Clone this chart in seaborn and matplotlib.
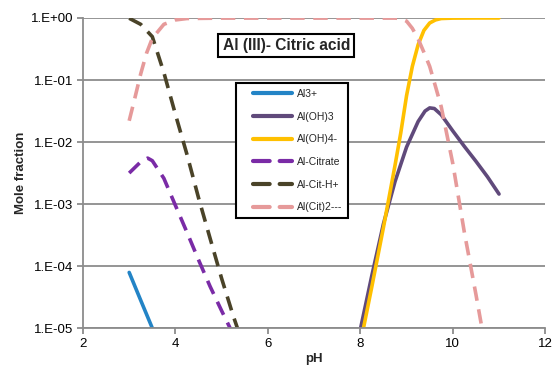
import numpy as np
import pandas as pd
import matplotlib
matplotlib.use("Agg")
import matplotlib.pyplot as plt
import seaborn as sns
from matplotlib.lines import Line2D
from matplotlib.legend_handler import HandlerLine2D
from matplotlib.ticker import FixedLocator, FixedFormatter, NullLocator

# Speciation of Al(III) in the presence of citric acid (mole fraction vs pH)
species = ["Al3+", "Al(OH)3", "Al(OH)4-", "Al-Citrate", "Al-Cit-H+", "Al(Cit)2---"]

ph_al3 = [3.0, 3.25, 3.5, 3.75]
frac_al3 = [7.9e-5, 2.8e-5, 1.0e-5, 3.2e-6]

ph_aloh3 = [8.0, 8.25, 8.5, 8.75, 9.0, 9.25, 9.4, 9.5, 9.6, 9.75, 10.0,
            10.25, 10.5, 10.75, 11.0]
frac_aloh3 = [9.5e-6, 7.1e-5, 4.8e-4, 2.3e-3, 8.3e-3, 2.14e-2, 3.16e-2,
              3.55e-2, 3.47e-2, 2.75e-2, 1.51e-2, 8.5e-3, 4.9e-3, 2.75e-3,
              1.45e-3]

ph_aloh4 = [8.0, 8.25, 8.5, 8.75, 8.875, 9.0, 9.125, 9.25, 9.375, 9.5,
            9.625, 9.75, 10.0, 10.5, 11.0]
frac_aloh4 = [5.6e-6, 4.7e-5, 4.2e-4, 4.2e-3, 1.41e-2, 5.6e-2, 0.166, 0.37,
              0.63, 0.83, 0.93, 0.98, 0.995, 1.0, 1.0]

ph_alcit = [3.0, 3.25, 3.4, 3.5, 3.75, 4.0, 4.25, 4.5, 4.75, 5.0, 5.25, 5.5]
frac_alcit = [3.16e-3, 4.8e-3, 5.5e-3, 5.0e-3, 2.6e-3, 9.5e-4, 3.5e-4,
              1.26e-4, 4.7e-5, 1.9e-5, 7.9e-6, 3.2e-6]

ph_alcith = [3.0, 3.25, 3.5, 3.75, 4.0, 4.25, 4.5, 4.75, 5.0, 5.25, 5.5]
frac_alcith = [0.99, 0.79, 0.50, 0.132, 2.8e-2, 6.3e-3, 1.26e-3, 2.8e-4,
               6.3e-5, 1.58e-5, 4.5e-6]

ph_alcit2 = [3.0, 3.125, 3.25, 3.375, 3.5, 3.75, 4.0, 4.25, 5.0, 6.0, 7.0,
             8.0, 8.75, 8.875, 9.0, 9.125, 9.25, 9.375, 9.5, 9.625, 9.75,
             10.0, 10.25, 10.5, 10.75]
frac_alcit2 = [2.2e-2, 5.2e-2, 0.126, 0.27, 0.47, 0.79, 0.93, 0.98, 0.995,
               0.995, 0.995, 0.995, 0.995, 0.98, 0.89, 0.68, 0.46, 0.28,
               0.166, 7.9e-2, 3.7e-2, 4.5e-3, 3.5e-4, 3.5e-5, 3.2e-6]

yticks = [1e0, 1e-1, 1e-2, 1e-3, 1e-4, 1e-5]
ytick_labels = ["1.E+00", "1.E-01", "1.E-02", "1.E-03", "1.E-04", "1.E-05"]
xticks = [2, 4, 6, 8, 10, 12]

colors = {
    "Al3+": "#2384C6",
    "Al(OH)3": "#604A7B",
    "Al(OH)4-": "#FFC000",
    "Al-Citrate": "#7A2BA6",
    "Al-Cit-H+": "#4A4328",
    "Al(Cit)2---": "#E69A9A",
}
dash_map = {
    "Al3+": "",
    "Al(OH)3": "",
    "Al(OH)4-": "",
    "Al-Citrate": (4, 2.4),
    "Al-Cit-H+": (4, 2.4),
    "Al(Cit)2---": (4, 2.4),
}

series = [
    ("Al3+", ph_al3, frac_al3),
    ("Al(OH)3", ph_aloh3, frac_aloh3),
    ("Al(OH)4-", ph_aloh4, frac_aloh4),
    ("Al-Citrate", ph_alcit, frac_alcit),
    ("Al-Cit-H+", ph_alcith, frac_alcith),
    ("Al(Cit)2---", ph_alcit2, frac_alcit2),
]
df = pd.concat(
    [pd.DataFrame({"pH": x, "frac": y, "species": name}) for name, x, y in series],
    ignore_index=True,
)

sns.set_theme(style="white")
plt.rcParams["font.family"] = ["Liberation Sans", "DejaVu Sans"]

fig = plt.figure(figsize=(5.53, 3.67), dpi=100)
ax = fig.add_axes([0.150, 0.106, 0.836, 0.845])

sns.lineplot(
    data=df, x="pH", y="frac", hue="species", style="species",
    hue_order=species, style_order=species,
    palette=colors, dashes=dash_map, sort=False, estimator=None,
    linewidth=2.6, ax=ax, legend=True,
)
for line in ax.get_lines():
    line.set_dash_capstyle("butt")
    line.set_solid_capstyle("round")
    line.set_solid_joinstyle("round")
    line.set_dash_joinstyle("round")

ax.set_yscale("log")
ax.set_ylim(1e-5, 1e0)
ax.set_xlim(2, 12)
ax.yaxis.set_major_locator(FixedLocator(yticks))
ax.yaxis.set_major_formatter(FixedFormatter(ytick_labels))
ax.yaxis.set_minor_locator(NullLocator())
ax.xaxis.set_major_locator(FixedLocator(xticks))

ax.grid(axis="y", color="#8C8C8C", linewidth=1.3)
ax.grid(axis="x", visible=False)
ax.set_axisbelow(True)
for side in ["top", "right"]:
    ax.spines[side].set_visible(False)
for side in ["left", "bottom"]:
    ax.spines[side].set_color("#8C8C8C")
    ax.spines[side].set_linewidth(1.3)
ax.tick_params(axis="both", which="major", direction="out", length=4,
               width=1.3, color="#8C8C8C", labelsize=9.5, labelcolor="black",
               left=True, bottom=True, pad=3)

ax.set_xlabel("pH", fontsize=9.5, fontweight="bold", labelpad=2)
ax.set_ylabel("Mole fraction", fontsize=9.5, fontweight="bold", labelpad=3)

ax.text(0.440, 0.911, "Al (III)- Citric acid", transform=ax.transAxes,
        fontsize=11.2, fontweight="bold", ha="center", va="center",
        bbox=dict(boxstyle="square,pad=0.28", facecolor="white",
                  edgecolor="black", linewidth=1.5))

handles, labels = ax.get_legend_handles_labels()
for h in handles:
    h.set_linewidth(3.0)
    h.set_dash_capstyle("round")
    h.set_solid_capstyle("round")
leg = ax.legend(handles, labels, loc="upper left",
                bbox_to_anchor=(0.331, 0.790), fontsize=7.5, frameon=True,
                fancybox=False, edgecolor="black", framealpha=1,
                handlelength=4.8, handletextpad=0.5, labelspacing=1.22,
                borderpad=0.55, borderaxespad=0,
                handler_map={Line2D: HandlerLine2D(xpad=1.1)})
leg.get_frame().set_linewidth(1.5)

fig.savefig("out.png", dpi=100)
